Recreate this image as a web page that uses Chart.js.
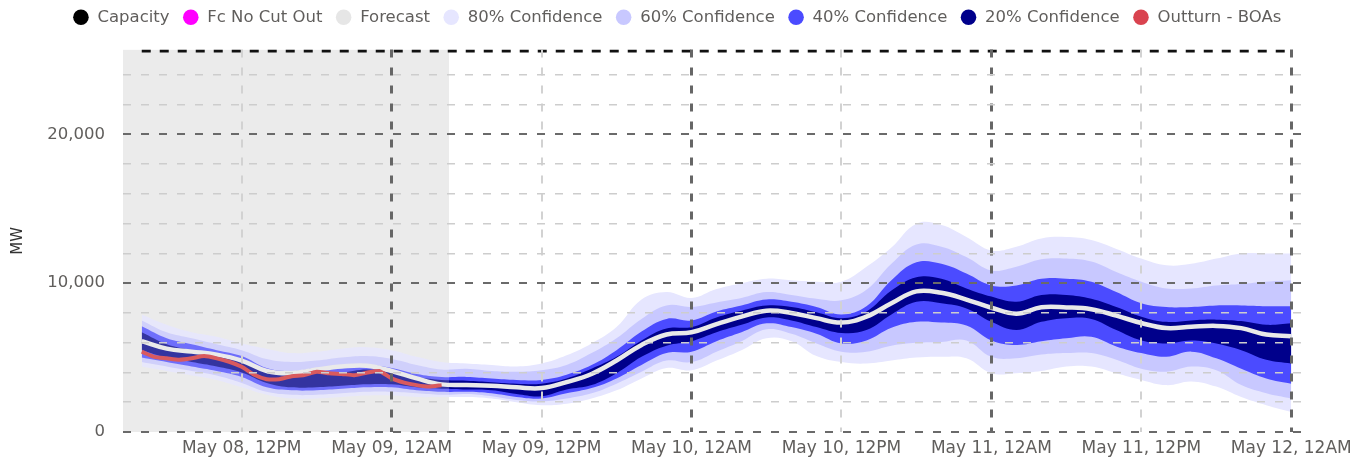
<!DOCTYPE html>
<html>
<head>
<meta charset="utf-8">
<script src="https://cdn.jsdelivr.net/npm/chart.js@4.4.1/dist/chart.umd.min.js"></script>
<style>
  html, body { margin: 0; padding: 0; background: #fff; }
</style>
</head>
<body>
<canvas id="chart" width="1370" height="462"></canvas>
<script>
// hours counted from May 08, 12AM
const bandHours = [4, 6, 8, 10, 12, 14, 16, 18, 20, 22, 24, 26, 28, 30, 32, 34, 36, 38, 40, 42, 44, 46, 48,
  50, 52, 54, 56, 58, 60, 62, 64, 66, 68, 70, 72, 74, 76, 78, 80, 82, 84, 86, 88, 90, 92, 94, 96];

const forecast = [6100, 5600, 5400, 5200, 4800, 4100, 3950, 4200, 4400, 4450, 4100, 3600, 3200, 3150, 3100, 3000, 2950, 3350, 3900, 4800, 5850, 6550, 6700,
  7250, 7750, 8150, 8000, 7650, 7350, 7750, 8650, 9450, 9350, 8900, 8350, 7950, 8380, 8370, 8250, 7820, 7320, 6980, 7070, 7130, 6980, 6550, 6440];

const conf20Low = [5500, 5000, 4700, 4400, 4000, 3300, 3000, 3000, 3100, 3200, 3200, 3000, 2900, 2850, 2800, 2550, 2400, 2850, 3150, 3950, 5050, 5800, 6100,
  6700, 7200, 7700, 7500, 7050, 6650, 6850, 7900, 8750, 8650, 8300, 7400, 6850, 7400, 7650, 7600, 6850, 6150, 5950, 6150, 5950, 5500, 4850, 4600];
const conf20High = [6700, 5900, 5500, 5200, 4800, 4000, 3900, 4000, 4000, 4200, 4000, 3700, 3500, 3450, 3350, 3250, 3250, 3600, 4250, 5050, 6150, 6950, 7050,
  7700, 8150, 8500, 8400, 8050, 7650, 8100, 9500, 10400, 10300, 9650, 9100, 8750, 9200, 9200, 8950, 8400, 7750, 7400, 7500, 7550, 7450, 7200, 7300];

const conf40Low = [5000, 4700, 4400, 4100, 3700, 3000, 2800, 2800, 2900, 3000, 3000, 2800, 2700, 2700, 2600, 2350, 2250, 2600, 2950, 3600, 4500, 5300, 5400,
  6100, 6700, 7300, 7050, 6600, 5950, 6150, 7000, 7400, 7350, 7150, 6150, 5850, 6100, 6300, 6400, 5750, 5300, 5050, 5400, 4950, 4250, 3600, 3250];
const conf40High = [7100, 6300, 5900, 5500, 5100, 4300, 4100, 4300, 4400, 4500, 4300, 3900, 3700, 3700, 3600, 3500, 3500, 3850, 4500, 5500, 6750, 7600, 7500,
  8100, 8500, 8900, 8750, 8400, 7900, 8450, 10200, 11400, 11300, 10650, 9850, 9850, 10300, 10300, 10100, 9400, 8650, 8400, 8400, 8500, 8500, 8450, 8450];

const conf60Low = [4700, 4400, 4100, 3800, 3300, 2700, 2500, 2500, 2600, 2700, 2700, 2600, 2500, 2550, 2400, 2150, 2050, 2250, 2600, 3250, 4050, 4800, 4700,
  5400, 6100, 6900, 6600, 5950, 5400, 5400, 5800, 6000, 6050, 6150, 5050, 4950, 5200, 5300, 5300, 4850, 4250, 4050, 4400, 4150, 3150, 2600, 2250];
const conf60High = [7500, 6700, 6300, 5900, 5500, 4900, 4700, 4800, 5000, 5100, 4900, 4500, 4200, 4250, 4100, 4050, 4150, 4500, 5300, 6300, 7600, 8500, 8400,
  8700, 9000, 9400, 9200, 8950, 8850, 9550, 11300, 12600, 12450, 11750, 10850, 11100, 11600, 11650, 11450, 10750, 10100, 9650, 9650, 9850, 9950, 10100, 10200];

const conf80Low = [4400, 4100, 3800, 3500, 3000, 2500, 2250, 2250, 2350, 2450, 2450, 2350, 2350, 2350, 2250, 2000, 1800, 1900, 2250, 2800, 3600, 4300, 4150,
  4800, 5500, 6300, 6100, 5100, 4700, 4600, 4800, 5000, 5050, 4950, 3950, 3950, 4100, 4400, 4400, 3950, 3500, 3150, 3400, 3050, 2350, 1800, 1350];
const conf80High = [7900, 7200, 6700, 6400, 5950, 5600, 5300, 5400, 5600, 5700, 5500, 5050, 4700, 4600, 4500, 4400, 4600, 5150, 5950, 7050, 8900, 9400, 9000,
  9600, 10000, 10300, 10200, 10100, 10100, 11100, 12400, 14000, 13900, 13100, 12200, 12450, 13000, 13100, 12900, 12300, 11650, 11200, 11300, 11650, 12000, 12000, 12000];

const capacity = bandHours.map(() => 25600);

const outturnHours = [4, 5, 6, 7, 8, 9, 10, 11, 12, 13, 14, 15, 16, 17, 18, 19, 20, 21, 22, 23, 24, 25, 26, 27, 28];
const outturn = [5400, 5050, 4950, 4850, 4950, 5100, 4950, 4720, 4380, 3850, 3550, 3550, 3750, 3820, 4050, 3950, 3900, 3820, 3980, 4100, 3600, 3320, 3150, 3050, 3150];

const fcNoCutOut = [];

// shaded forecast window (hours)
const shadeHours = [2.5, 28.6];

const xRange = [2.5, 97.5];
const tickHours = [12, 24, 36, 48, 60, 72, 84, 96];
const tickLabels = ["May 08, 12PM", "May 09, 12AM", "May 09, 12PM", "May 10, 12AM",
  "May 10, 12PM", "May 11, 12AM", "May 11, 12PM", "May 12, 12AM"];
const yTicks = [0, 2000, 4000, 6000, 8000, 10000, 12000, 14000, 16000, 18000, 20000, 22000, 24000];
const yMax = 25700;

const legendOrder = ["Capacity", "Fc No Cut Out", "Forecast", "80% Confidence", "60% Confidence",
  "40% Confidence", "20% Confidence", "Outturn - BOAs"];
const legendColors = {
  "Capacity": "#000000",
  "Fc No Cut Out": "#ff00ff",
  "Forecast": "#e6e6e6",
  "80% Confidence": "#e6e6ff",
  "60% Confidence": "#c8c8ff",
  "40% Confidence": "#4b4bff",
  "20% Confidence": "#00008b",
  "Outturn - BOAs": "#d9434f"
};

const pts = (xs, ys) => ys.map((y, i) => ({ x: xs[i], y }));

function band(label, lo, hi, color, order) {
  return [
    { label, data: pts(bandHours, hi), borderWidth: 0, pointRadius: 0, tension: 0.4,
      backgroundColor: color, borderColor: color, fill: "+1", order },
    { label: label + " low", data: pts(bandHours, lo), borderWidth: 0, pointRadius: 0, tension: 0.4,
      backgroundColor: color, borderColor: color, fill: false, order: order + 0.5 }
  ];
}

Chart.defaults.font.family = "'DejaVu Sans', sans-serif";
Chart.defaults.color = "#666";

// extra room under the legend, and legend centred over the plot
const legendGap = {
  id: "legendGap",
  beforeInit(chart) {
    const fit = chart.legend.fit;
    chart.legend.fit = function () {
      fit.bind(chart.legend)();
      this.height += 14;
    };
  },
  afterLayout(chart) {
    chart.legend.left += 44;
  }
};

const ctx = document.getElementById("chart").getContext("2d");

new Chart(ctx, {
  type: "line",
  data: {
    datasets: [
      { label: "Capacity", data: pts(bandHours, capacity), borderColor: "#111", borderWidth: 3,
        borderDash: [9, 9], pointRadius: 0, fill: false, order: 0 },
      { label: "Fc No Cut Out", data: fcNoCutOut, borderColor: "#ff00ff", backgroundColor: "#ff00ff",
        borderWidth: 2, pointRadius: 0, fill: false, order: 1 },
      { label: "Outturn - BOAs", data: pts(outturnHours, outturn), borderColor: "#d95a5e",
        borderWidth: 4, pointRadius: 0, tension: 0.2, fill: false, order: 2 },
      { label: "shade top", data: pts(shadeHours, [yMax, yMax]), borderWidth: 0, pointRadius: 0,
        backgroundColor: "rgba(235,235,235,0.22)", fill: "origin", order: 3 },
      { label: "Forecast", data: pts(bandHours, forecast), borderColor: "#e9e9e9", backgroundColor: "#e6e6e6",
        borderWidth: 4.5, pointRadius: 0, tension: 0.4, fill: false, order: 4 },
      ...band("20% Confidence", conf20Low, conf20High, "#00008b", 5),
      ...band("40% Confidence", conf40Low, conf40High, "#4b4bff", 7),
      ...band("60% Confidence", conf60Low, conf60High, "#c8c8ff", 9),
      ...band("80% Confidence", conf80Low, conf80High, "#e6e6ff", 11),
      { label: "shade", data: pts(shadeHours, [yMax, yMax]), borderWidth: 0, pointRadius: 0,
        backgroundColor: "#ebebeb", fill: "origin", order: 20 }
    ]
  },
  options: {
    responsive: false,
    animation: false,
    events: [],
    layout: { padding: { left: 0, right: 60, top: -4, bottom: 0 } },
    plugins: {
      tooltip: { enabled: false },
      legend: {
        position: "top",
        labels: {
          usePointStyle: true,
          pointStyle: "circle",
          boxHeight: 11,
          padding: 13,
          color: "#605e5c",
          font: { size: 16.5 },
          generateLabels(chart) {
            return Chart.defaults.plugins.legend.labels.generateLabels(chart)
              .filter(it => legendOrder.includes(it.text))
              .map(it => Object.assign(it, {
                fillStyle: legendColors[it.text], strokeStyle: legendColors[it.text],
                lineWidth: 0, lineDash: [], pointStyle: "circle"
              }))
              .sort((a, b) => legendOrder.indexOf(a.text) - legendOrder.indexOf(b.text));
          }
        }
      }
    },
    scales: {
      x: {
        type: "linear",
        min: xRange[0],
        max: xRange[1],
        afterBuildTicks: s => { s.ticks = tickHours.map(value => ({ value })); },
        afterFit: s => { s.height = 30; },
        ticks: {
          autoSkip: false, maxRotation: 0, padding: 6, color: "#605e5c",
          font: { size: 17 },
          callback: (v, i) => tickLabels[i]
        },
        grid: {
          z: 1,
          drawTicks: false,
          color: c => (c.tick && c.tick.value % 24 === 0) ? "#666" : "#d2d2d2",
          lineWidth: c => (c.tick && c.tick.value % 24 === 0) ? 3 : 2
        },
        border: { display: false, dash: [8, 10] }
      },
      y: {
        min: 0,
        max: yMax,
        afterBuildTicks: s => { s.ticks = yTicks.map(value => ({ value })); },
        afterFit: s => { s.width = 123; },
        ticks: {
          padding: 18, color: "#605e5c", font: { size: 16.5 },
          callback: v => v % 10000 === 0 ? v.toLocaleString("en-US") : ""
        },
        title: { display: true, text: "MW", color: "#333", font: { size: 15 }, padding: { top: 9, bottom: 0 } },
        grid: {
          z: 1,
          drawTicks: false,
          color: c => (c.tick && c.tick.value % 10000 === 0) ? "#6a6a6a" : "#cdcdcd",
          lineWidth: c => (c.tick && c.tick.value % 10000 === 0) ? 2 : 1.5
        },
        border: { display: false, dash: [8, 10] }
      }
    }
  },
  plugins: [legendGap]
});
</script>
</body>
</html>
